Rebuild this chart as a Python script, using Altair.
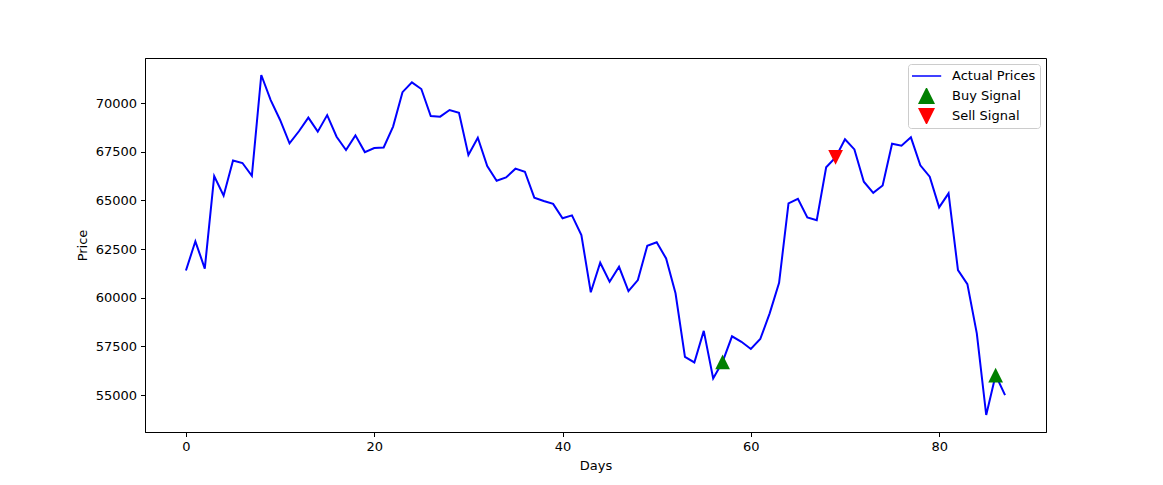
import altair as alt
import pandas as pd

prices = [61400, 62900, 61500, 66250, 65240, 67050, 66920, 66260, 71440, 70150,
          69130, 67930, 68550, 69250, 68530, 69380, 68270, 67590, 68340, 67480,
          67690, 67720, 68790, 70560, 71060, 70720, 69330, 69300, 69640, 69500,
          67330, 68220, 66760, 66010, 66180, 66630, 66470, 65140, 64970, 64820,
          64080, 64230, 63220, 60280, 61800, 60820, 61590, 60340, 60910, 62670,
          62850, 62020, 60230, 56970, 56680, 58300, 55860, 56710, 58020, 57740,
          57370, 57880, 59200, 60770, 64850, 65080, 64130, 63980, 66700, 67210,
          68140, 67620, 65960, 65390, 65770, 67910, 67810, 68240, 66800, 66220,
          64640, 65360, 61420, 60700, 58170, 53980, 56030, 55000]
days = list(range(len(prices)))
buy_days = [57, 86]
sell_days = [69]
series_names = ["Actual Prices", "Buy Signal", "Sell Signal"]
series_colors = ["#0000ff", "#008000", "#ff0000"]
x_ticks = [0, 20, 40, 60, 80]
y_ticks = [55000, 57500, 60000, 62500, 65000, 67500, 70000]

line_df = pd.DataFrame({"day": days, "price": prices, "series": "Actual Prices"})
sig_df = pd.DataFrame(
    [{"day": d, "price": prices[d], "series": "Buy Signal"} for d in buy_days]
    + [{"day": d, "price": prices[d], "series": "Sell Signal"} for d in sell_days]
)

n = len(days) - 1
xlo, xhi = -0.05 * n, n + 0.05 * n
pr = max(prices) - min(prices)
ylo, yhi = min(prices) - 0.05 * pr, max(prices) + 0.05 * pr

UP = "M0,-0.5L0.5,0.5L-0.5,0.5Z"
DOWN = "M0,0.5L0.5,-0.5L-0.5,-0.5Z"

color_scale = alt.Scale(domain=series_names, range=series_colors)
shape_scale = alt.Scale(domain=series_names, range=["stroke", UP, DOWN])

legend = alt.Legend(
    title=None,
    orient="top-right",
    offset=6,
    padding=4,
    fillColor="rgba(255,255,255,0.8)",
    strokeColor="#cccccc",
    cornerRadius=3,
    labelFont="DejaVu Sans",
    labelFontSize=13,
    labelColor="black",
    labelOffset=10,
    symbolOffset=-1,
    symbolSize=864,
    symbolStrokeWidth=1.5,
    symbolOpacity=1,
    clipHeight=16,
    rowPadding=4,
)

x_enc = alt.X(
    "day:Q",
    scale=alt.Scale(domain=[xlo, xhi], nice=False, zero=False),
    axis=alt.Axis(title="Days", values=x_ticks, format="d"),
)
y_enc = alt.Y(
    "price:Q",
    scale=alt.Scale(domain=[ylo, yhi], nice=False, zero=False),
    axis=alt.Axis(title="Price", values=y_ticks, format="d"),
)

line = alt.Chart(line_df).mark_line(strokeWidth=2).encode(
    x=x_enc,
    y=y_enc,
    color=alt.Color("series:N", scale=color_scale, legend=legend),
)

points = alt.Chart(sig_df).mark_point(filled=True, size=864, opacity=1).encode(
    x=x_enc,
    y=y_enc,
    color=alt.Color("series:N", scale=color_scale, legend=legend),
    shape=alt.Shape("series:N", scale=shape_scale, legend=legend),
)

chart = (
    alt.layer(line, points)
    .properties(
        width=901,
        height=374,
        autosize=alt.AutoSizeParams(type="none"),
        padding={"left": 137, "top": 50, "right": 100, "bottom": 45},
        background="white",
    )
    .configure_view(stroke="black", strokeWidth=1)
    .configure_axis(
        grid=False,
        domainColor="black",
        domainWidth=1,
        tickColor="black",
        tickSize=4.5,
        tickWidth=1,
        labelFont="DejaVu Sans",
        labelFontSize=13,
        labelColor="black",
        labelPadding=4,
        titleFont="DejaVu Sans",
        titleFontSize=13,
        titleFontWeight="normal",
        titleColor="black",
        titlePadding=6,
    )
)

chart.save("out.html", embed_options={"renderer": "svg", "actions": False})
